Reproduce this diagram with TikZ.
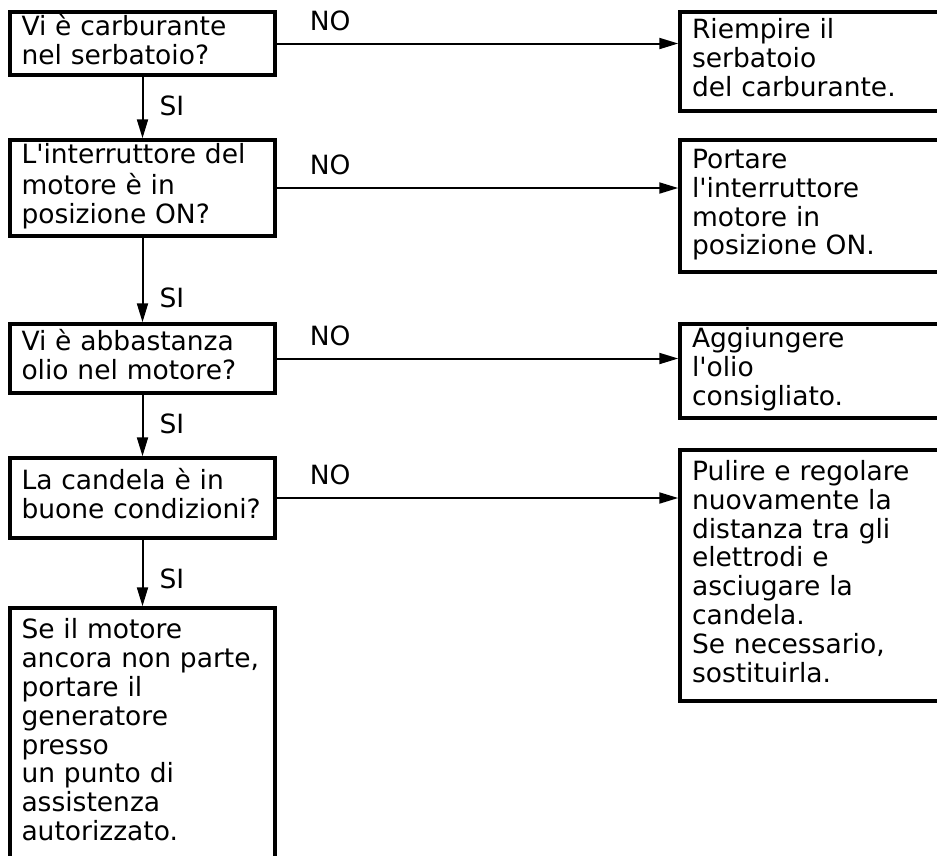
\documentclass[tikz,border=0pt]{standalone}
\usepackage{fontspec}
\setmainfont{DejaVu Sans}
\usetikzlibrary{positioning,arrows.meta}

\begin{document}
\begin{tikzpicture}[
        x=1pt, y=1pt,
        font=\fontsize{26.5pt}{28.8pt}\selectfont,
        flow/.style={-{Triangle[length=19pt, width=11pt]}, line width=2pt, draw=black},
        ask/.style={
            rectangle,
            draw=black,
            line width=3.5pt,
            align=left,
            text width=242pt,
            inner xsep=11.5pt,
            inner ysep=0pt,
            execute at begin node=\strut,
            execute at end node=\strut
        },
        fix/.style={
            rectangle,
            draw=black,
            line width=3.5pt,
            align=left,
            text width=270pt,
            inner xsep=12pt,
            inner ysep=0pt,
            execute at begin node=\strut,
            execute at end node=\strut
        },
        lbl/.style={inner sep=0pt}
    ]

    \useasboundingbox (0,0) rectangle (937,-855);

    % checks on the left
    \node[ask, minimum height=63pt, anchor=north west] (fuel) at (8.25,-10.25)
        {Vi è carburante\\nel serbatoio?};
    \node[ask, minimum height=96pt, below=61.5pt of fuel] (switch)
        {L\textquotesingle interruttore del\\motore è in\\posizione ON?};
    \node[ask, minimum height=69pt, below=84.5pt of switch] (oil)
        {Vi è abbastanza\\olio nel motore?};
    \node[ask, minimum height=80pt, below=61.5pt of oil] (plug)
        {La candela è in\\buone condizioni?};
    \node[ask, minimum height=252pt, below=66.5pt of plug] (dealer)
        {Se il motore\\ancora non parte,\\portare il\\generatore\\presso\\un punto di\\assistenza\\autorizzato.};

    % remedies on the right
    \node[fix, minimum height=99pt, right=401.5pt of fuel.north east, anchor=north west] (refill)
        {Riempire il\\serbatoio\\del carburante.};
    \node[fix, minimum height=132pt, right=401.5pt of switch.north east, anchor=north west] (turnon)
        {Portare\\l\textquotesingle interruttore\\motore in\\posizione ON.};
    \node[fix, minimum height=94pt, right=401.5pt of oil.north east, anchor=north west] (addoil)
        {Aggiungere\\l\textquotesingle olio\\consigliato.};
    \node[fix, minimum height=251pt, right=401.5pt of plug.north east, anchor=north west, yshift=8pt] (cleanplug)
        {Pulire e regolare\\nuovamente la\\distanza tra gli\\elettrodi e\\asciugare la\\candela.\\Se necessario,\\sostituirla.};

    \draw[flow] (fuel) -- node[lbl, right=16pt, pos=0.48] {SI} (switch);
    \draw[flow] (switch) -- node[lbl, right=16pt, pos=0.71] {SI} (oil);
    \draw[flow] (oil) -- node[lbl, right=16pt, pos=0.47] {SI} (plug);
    \draw[flow] (plug) -- node[lbl, right=16pt, pos=0.59] {SI} (dealer);

    \draw[flow] (fuel.east) -- node[lbl, above=12pt, pos=0.133] {NO} (fuel.east -| refill.west);
    \draw[flow] (switch.east) -- node[lbl, above=12pt, pos=0.133] {NO} (switch.east -| turnon.west);
    \draw[flow] (oil.east) -- node[lbl, above=12pt, pos=0.133] {NO} (oil.east -| addoil.west);
    \draw[flow] (plug.east) -- node[lbl, above=12pt, pos=0.133] {NO} (plug.east -| cleanplug.west);

\end{tikzpicture}
\end{document}
